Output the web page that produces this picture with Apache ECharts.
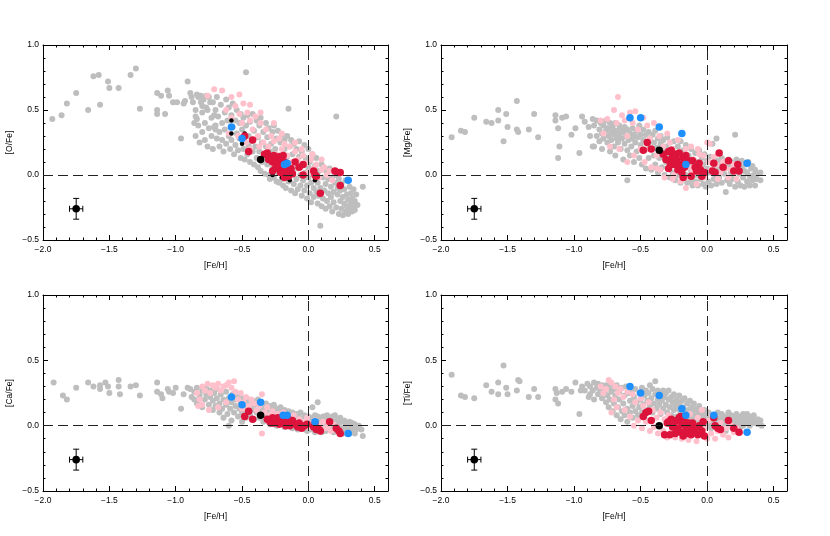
<!DOCTYPE html>
<html>
<head>
<meta charset="utf-8">
<script src="https://cdn.jsdelivr.net/npm/echarts@6/dist/echarts.min.js"></script>
<style>
  * { margin: 0; padding: 0; }
  body { background: #fff; }
  #chart { width: 830px; height: 536px; }
</style>
</head>
<body>
<div id="chart"></div>
<script>
// rows are [feh, value, value, ...] (several stars at the same [Fe/H])
const grayO = [
  [-1.93,0.43],[-1.86,0.46],[-1.82,0.55],[-1.75,0.63],[-1.66,0.50],[-1.62,0.76],[-1.58,0.77],[-1.57,0.54],
  [-1.51,0.72],[-1.50,0.67],[-1.43,0.67],[-1.34,0.77],[-1.30,0.82],[-1.27,0.51],[-1.14,0.63,0.50,0.47],
  [-1.11,0.61],[-1.08,0.47],[-1.06,0.65],[-1.05,0.61],[-1.02,0.56],[-0.99,0.56],[-0.96,0.28],[-0.94,0.55],
  [-0.93,0.57],[-0.91,0.72],[-0.89,0.63],[-0.88,0.60],[-0.87,0.56],[-0.86,0.40],[-0.84,0.43,0.62],[-0.85,0.50],
  [-0.81,0.61,0.56],[-0.80,0.53],[-0.77,0.61,0.52],[-0.74,0.56],[-0.71,0.46,0.37],[-0.70,0.35],
  [-0.85,0.45,0.30],[-0.83,0.60,0.38],[-0.82,0.25],[-0.80,0.48,0.33],[-0.79,0.58],[-0.78,0.40,0.27],
  [-0.76,0.50,0.22],[-0.75,0.60,0.36],[-0.73,0.44,0.30],[-0.72,0.56,0.20],[-0.70,0.50,0.38],[-0.69,0.28,0.60],
  [-0.68,0.45],[-0.67,0.33,0.22],[-0.66,0.54],[-0.65,0.40,0.27],[-0.64,0.18],[-0.63,0.48,0.35],[-0.62,0.58,0.24],
  [-0.61,0.42],[-0.60,0.30,0.52],[-0.59,0.20],[-0.58,0.46,0.27],[-0.57,0.37,0.55],[-0.56,0.16],[-0.55,0.42,0.23],
  [-0.54,0.50,0.32],[-0.53,0.19],[-0.52,0.40,0.28],[-0.51,0.47,0.13],[-0.50,0.35],[-0.49,0.20,0.44],
  [-0.48,0.26,0.12],[-0.47,0.79,0.38],[-0.46,0.16,0.46],[-0.45,0.30,0.22],[-0.44,0.10,0.41],[-0.43,0.26],
  [-0.42,0.18,0.47],[-0.41,0.34,0.08],[-0.40,0.22],[-0.39,0.42,0.13],[-0.38,0.29,0.06],[-0.37,0.38,0.18],
  [-0.36,0.44,0.03],[-0.35,0.25,0.10],[-0.34,0.33],[-0.33,0.15,0.01],[-0.32,0.40,0.22],[-0.31,0.08,0.29],
  [-0.30,0.36,0.00],[-0.29,0.18,-0.03],[-0.28,0.24,0.11],[-0.27,0.33,0.05],[-0.26,0.38,-0.02],[-0.25,0.20,0.08],
  [-0.24,0.28,-0.05],[-0.23,0.02,0.34],[-0.22,0.15,-0.06],[-0.21,0.25,0.05],[-0.20,0.31,-0.03],[-0.19,0.10,-0.08],
  [-0.18,0.20,0.27],[-0.17,0.00,-0.10],[-0.16,0.14,0.30],[-0.15,0.51,-0.05],[-0.14,0.22,0.06],[-0.13,-0.12,0.27],
  [-0.12,0.02,0.16],[-0.11,-0.07,0.24],[-0.10,0.10,-0.14],[-0.09,0.20,-0.03],[-0.08,0.05,-0.11],[-0.07,0.26,0.14],
  [-0.06,-0.08,0.00],[-0.05,0.18,-0.16],[-0.04,0.08,-0.04],[-0.03,0.23,-0.12],[-0.02,0.02,0.13],[-0.01,-0.08,-0.18],
  [0.00,0.06,0.20,-0.02],[0.01,-0.14,0.10],[0.02,-0.06,-0.21],[0.03,0.16,0.02],[0.04,-0.10,-0.17],[0.05,0.07,-0.02],
  [0.06,-0.13,0.13],[0.07,-0.22,-0.06],[0.08,0.03,-0.16],[0.09,-0.39,-0.10],[0.10,0.08,-0.24],[0.11,-0.02,-0.18],
  [0.12,0.04,-0.12],[0.13,-0.26,-0.07],[0.14,0.02,-0.20],[0.15,-0.14,-0.03],[0.16,-0.24,0.05],[0.17,-0.09,-0.17],
  [0.18,-0.28,-0.02],[0.19,-0.13,-0.21],[0.20,0.00,-0.06],[0.21,0.45,-0.25],[0.22,-0.15,-0.10],[0.23,-0.30,-0.03],
  [0.24,-0.20,-0.12],[0.25,-0.26,-0.07],[0.26,-0.17,-0.31],[0.27,-0.22,-0.11],[0.28,-0.28,-0.04],[0.29,-0.15,-0.24],
  [0.30,-0.19,-0.30],[0.31,-0.09,-0.26],[0.32,-0.22,-0.14],[0.33,-0.28,-0.18],[0.34,-0.24,-0.11],[0.35,-0.20,-0.27],
  [0.36,-0.15],[0.37,-0.23],[0.41,-0.09]
];
const pinkO = [
  [-0.76,0.61],[-0.71,0.66],[-0.65,0.65],[-0.62,0.50],[-0.58,0.44,0.60],[-0.55,0.53],[-0.52,0.47,0.62],[-0.50,0.40],
  [-0.49,0.55],[-0.46,0.48],[-0.44,0.42,0.54,0.20],[-0.42,0.35],[-0.40,0.45],[-0.38,0.30],[-0.36,0.40,0.48],
  [-0.34,0.25],[-0.32,0.35],[-0.30,0.22,0.14],[-0.28,0.30],[-0.26,0.26,0.40],[-0.24,0.16],[-0.22,0.28],
  [-0.20,0.20,0.32],[-0.18,0.24],[-0.16,0.15],[-0.14,0.22],[-0.12,0.10],[-0.10,0.18,0.25],[-0.08,0.12],
  [-0.06,0.06],[-0.05,0.20],[-0.04,0.15],[-0.02,0.09],[0.00,0.02],[0.02,0.12],[0.03,0.16],[0.04,0.05],[0.06,0.08],
  [0.08,-0.02],[0.10,0.04,0.12],[0.12,0.06],[0.14,0.00],[0.16,0.03],[0.18,-0.04],[0.20,0.02],
  [-0.60,0.32],[-0.53,0.30],[-0.47,0.25],[-0.37,0.22]
];
const redO = [
  [-0.48,0.30],[-0.42,0.27],[-0.45,0.18],[-0.33,0.16],[-0.31,0.17],[-0.30,0.12],[-0.29,0.14],[-0.27,0.10,0.03],
  [-0.26,0.15],[-0.25,0.05],[-0.24,0.12],[-0.23,0.08],[-0.22,0.14],[-0.21,0.11,0.02],[-0.20,0.06],[-0.19,0.15],
  [-0.18,0.10,-0.02],[-0.17,0.02],[-0.16,0.06],[-0.15,-0.01],[-0.14,0.04],[-0.13,0.05],[-0.12,0.01],[-0.10,0.10],
  [-0.07,0.06],[-0.04,0.08,0.00],[0.04,0.03],[0.05,0.00],[0.06,-0.01],[0.09,-0.14],[0.20,0.03],[0.22,0.02],
  [0.24,0.02,-0.08]
];
const blueO = [[-0.58,0.37],[-0.50,0.28],[-0.18,0.08],[-0.16,0.09],[0.30,-0.04]];
const blackSmallO = [
  [-0.58,0.42,0.32],[-0.48,0.32],[-0.50,0.24],[-0.27,0.03,0.00],[-0.20,-0.02],[-0.14,-0.04],[0.05,0.03,-0.04]
];
const blackBigO = [[-0.36,0.12]];

const grayMg = [
  [-1.92,0.29],[-1.85,0.34],[-1.82,0.33],[-1.75,0.44],[-1.66,0.41],[-1.62,0.40],[-1.57,0.50,0.42],[-1.53,0.26],
  [-1.51,0.47],[-1.50,0.37],[-1.43,0.57,0.35],[-1.42,0.33],[-1.34,0.35],[-1.30,0.47],[-1.27,0.29],
  [-1.14,0.46,0.42],[-1.12,0.36,0.13],[-1.11,0.22],[-1.09,0.44],[-1.06,0.45],[-1.02,0.31],[-0.99,0.36],
  [-0.96,0.17],[-0.94,0.45],[-0.92,0.41],[-0.89,0.37],[-0.88,0.30],[-0.86,0.43,0.22],
  [-0.85,0.38,0.22],[-0.83,0.42,0.30],[-0.81,0.35,0.26],[-0.80,0.40],[-0.79,0.32,0.20],[-0.78,0.38,0.28],
  [-0.76,0.42,0.34],[-0.75,0.25,0.36],[-0.74,0.30],[-0.73,0.40,0.18],[-0.72,0.33,0.27],[-0.71,0.37],
  [-0.70,0.22,0.31],[-0.69,0.40,0.15],[-0.68,0.34,0.28],[-0.67,0.25],[-0.66,0.38,0.31],[-0.65,0.20,0.35],
  [-0.64,0.28],[-0.63,0.33,0.12],[-0.62,0.37,0.24],[-0.61,0.30],[-0.60,-0.04,0.35,0.19],[-0.59,0.27],
  [-0.58,0.32,0.15],[-0.57,0.22],[-0.56,0.36,0.28],[-0.55,0.10,0.31],[-0.54,0.25],[-0.53,0.34,0.18],[-0.52,0.29],
  [-0.51,0.13,0.38],[-0.50,0.23,0.31],[-0.49,0.08],[-0.48,0.27,0.35],[-0.47,0.19],[-0.46,0.31,0.05],[-0.45,0.24],
  [-0.44,0.33,0.13],[-0.43,0.28],[-0.42,0.04,0.20],[-0.41,0.31],[-0.40,0.15,0.25],[-0.39,0.34,0.08],[-0.38,0.21],
  [-0.37,0.28,0.02],[-0.36,0.13],[-0.35,0.30,0.24],[-0.34,0.06],[-0.33,0.18,0.27],[-0.32,0.00],[-0.31,0.22,0.10],
  [-0.30,0.29],[-0.29,0.05,0.16],[-0.28,-0.02,0.25],[-0.27,0.12],[-0.26,0.20,0.02],[-0.25,0.26],[-0.24,0.08,-0.04],
  [-0.23,0.17],[-0.22,0.22,0.00],[-0.21,0.12],[-0.20,-0.06,0.26],[-0.19,0.06],[-0.18,0.19,-0.02],[-0.17,0.11],
  [-0.16,0.23,0.00],[-0.15,-0.06],[-0.14,0.15,0.08],[-0.13,-0.04],[-0.12,0.20,0.03],[-0.11,0.12,-0.08],[-0.10,0.06],
  [-0.09,0.17,-0.05],[-0.08,0.00],[-0.07,0.10,-0.08],[-0.06,0.19],[-0.05,0.04,-0.03],[-0.04,0.13],[-0.03,-0.07,0.08],
  [-0.02,0.16],[-0.01,0.01,-0.09],[0.00,0.11,0.05],[0.01,-0.05],[0.02,0.14,0.02],[0.03,-0.08],[0.04,0.09,0.24],
  [0.05,-0.03],[0.06,0.12,0.04],[0.07,0.28,-0.07],[0.08,0.07],[0.09,-0.02,0.11],[0.10,0.04],[0.11,-0.06,0.13],
  [0.12,0.08],[0.13,0.01],[0.14,-0.13,0.10],[0.15,-0.04],[0.16,0.06,0.12],[0.17,-0.07],[0.18,0.02,0.10],[0.19,-0.03],
  [0.20,0.07],[0.21,0.31,-0.09],[0.22,0.04,0.12],[0.23,-0.05],[0.24,0.09,0.01],[0.25,-0.08],[0.26,0.06,0.11],
  [0.27,-0.02],[0.28,0.03,-0.09],[0.29,0.08],[0.30,-0.05,0.02],[0.31,0.10],[0.32,-0.01,-0.08],[0.33,0.05],
  [0.34,-0.04,0.07],[0.35,0.00],[0.36,-0.08,0.04],[0.37,-0.03],[0.38,0.01],[0.40,-0.04,0.02]
];
const pinkMg = [
  [-0.80,0.42],[-0.78,0.32],[-0.75,0.43],[-0.73,0.22],[-0.70,0.50],[-0.68,0.40],[-0.67,0.60],[-0.66,0.20],
  [-0.64,0.46],[-0.62,0.42],[-0.60,0.30,0.10],[-0.58,0.48],[-0.56,0.40],[-0.55,0.15],[-0.54,0.49],[-0.52,0.35],
  [-0.50,0.20],[-0.48,0.44],[-0.47,0.10],[-0.45,0.38],[-0.44,0.20],[-0.43,0.28],[-0.42,0.06],[-0.40,0.40],
  [-0.38,0.15,0.05],[-0.36,0.30],[-0.35,0.04],[-0.33,0.22],[-0.32,-0.02],[-0.31,0.12],[-0.30,0.32],[-0.28,0.08,0.25],
  [-0.26,0.20,-0.03],[-0.25,0.00],[-0.24,0.17],[-0.23,0.14],[-0.22,0.27],[-0.20,-0.05,0.06],[-0.18,0.10],
  [-0.17,0.15],[-0.16,0.20,-0.10],[-0.15,-0.02],[-0.13,0.06],[-0.12,0.22],[-0.11,0.03],[-0.10,0.12],[-0.08,-0.07],
  [-0.07,0.20],[-0.06,0.16],[-0.05,0.08],[-0.03,0.15],[-0.02,-0.02],[0.00,0.25],[0.01,0.10],[0.02,0.24],[0.03,0.04],
  [0.05,0.14],[0.07,0.08],[0.08,-0.03],[0.10,0.02],[0.12,0.10],[0.14,0.05],[0.16,-0.02],[0.18,0.04],[0.20,0.08],
  [0.22,-0.03]
];
const redMg = [
  [-0.48,0.19],[-0.45,0.25],[-0.42,0.20],[-0.33,0.16],[-0.31,0.12],[-0.29,0.18,0.05],[-0.28,0.10],[-0.27,0.19],
  [-0.26,0.14],[-0.25,0.08],[-0.24,0.16],[-0.23,0.12],[-0.22,0.04],[-0.21,0.17],[-0.20,0.08],[-0.19,0.02],
  [-0.18,0.13,-0.02],[-0.17,0.06],[-0.16,0.15],[-0.14,0.11],[-0.12,-0.01],[-0.11,0.11],[-0.09,0.06],[-0.08,0.03],
  [-0.06,0.09],[-0.05,0.04],[-0.04,-0.01],[-0.02,0.02],[0.04,0.03],[0.05,0.09],[0.06,0.02],[0.09,0.17],[0.12,0.06],
  [0.16,0.11],[0.20,0.03],[0.23,0.08],[0.24,0.03]
];
const blueMg = [[-0.58,0.44],[-0.50,0.44],[-0.36,0.37],[-0.19,0.32],[-0.16,0.08],[0.30,0.09]];
const blackBigMg = [[-0.36,0.19]];

const grayCa = [
  [-1.92,0.33],[-1.85,0.23],[-1.82,0.20],[-1.75,0.29],[-1.66,0.33],[-1.62,0.30],[-1.57,0.31,0.28],[-1.53,0.33],
  [-1.51,0.30],[-1.50,0.25],[-1.43,0.35,0.30],[-1.42,0.24],[-1.34,0.30],[-1.30,0.31],[-1.27,0.23],
  [-1.14,0.33,0.26],[-1.11,0.24],[-1.10,0.21],[-1.06,0.28],[-1.05,0.26],[-1.02,0.25],[-1.00,0.29],[-0.96,0.13],
  [-0.94,0.24],[-0.91,0.29],[-0.89,0.28],[-0.88,0.22],
  [-0.86,0.26,0.20],[-0.84,0.29,0.17],[-0.82,0.23],[-0.80,0.27,0.14],[-0.78,0.20],[-0.77,0.29,0.24],[-0.75,0.16],
  [-0.74,0.22,0.27],[-0.72,0.12,0.19],[-0.71,0.25],[-0.70,0.15],[-0.69,0.21,0.28],[-0.67,0.10,0.17],[-0.66,0.24],
  [-0.65,0.13],[-0.64,0.20,0.06],[-0.62,0.16,0.26],[-0.61,0.09],[-0.60,0.00,0.21],[-0.59,0.13],[-0.58,0.18,0.04],
  [-0.57,0.24],[-0.56,0.10],[-0.55,0.15,0.20],[-0.53,0.07,0.22],[-0.52,0.13],[-0.51,0.18],[-0.50,0.10,0.03],
  [-0.49,0.21],[-0.48,0.14],[-0.47,0.18,0.06],[-0.46,0.11],[-0.45,0.20],[-0.44,0.08,0.15],[-0.42,0.12,0.19],
  [-0.41,0.05],[-0.40,0.16],[-0.39,0.10],[-0.38,0.14,0.20],[-0.37,0.06],[-0.35,0.12,0.16],[-0.34,0.03],[-0.33,0.09],
  [-0.32,0.17,0.13],[-0.31,0.05],[-0.30,0.10],[-0.29,0.15,0.01],[-0.28,0.07],[-0.27,0.12],[-0.26,0.03,0.16],
  [-0.25,0.09],[-0.24,0.13,0.00],[-0.23,0.06],[-0.22,0.11],[-0.21,0.02,0.14],[-0.20,0.08],[-0.19,0.04],
  [-0.18,0.12,-0.01],[-0.17,0.09],[-0.16,0.05],[-0.15,0.11,0.01],[-0.14,0.07],[-0.13,0.03],[-0.12,0.10,-0.02],
  [-0.11,0.06],[-0.10,0.02],[-0.09,0.09,0.04],[-0.08,-0.03],[-0.07,0.06],[-0.06,0.10,0.01],[-0.05,0.04],
  [-0.04,-0.02],[-0.03,0.08,0.03],[-0.02,0.05],[-0.01,-0.04],[0.00,0.07,0.02],[0.01,0.04],[0.02,-0.03],
  [0.03,0.14,0.06],[0.04,0.01],[0.05,0.08,-0.05],[0.06,0.03],[0.07,0.18,0.07],[0.08,-0.01],[0.09,0.05],
  [0.10,0.02,-0.05],[0.11,0.07],[0.12,0.00],[0.13,0.04,-0.04],[0.14,0.08],[0.15,0.02],[0.16,-0.03,0.05],[0.17,0.00],
  [0.18,0.07],[0.19,-0.05,0.03],[0.20,0.08],[0.21,0.01],[0.22,-0.03,0.05],[0.23,0.02],[0.24,0.06],[0.25,-0.02,0.03],
  [0.26,-0.06],[0.27,0.04],[0.28,0.00,-0.04],[0.29,0.02],[0.30,-0.03],[0.31,0.03,-0.06],[0.32,0.00],[0.33,-0.04,0.02],
  [0.34,-0.01],[0.35,-0.06,0.01],[0.36,-0.03],[0.38,0.00],[0.40,-0.03],[0.41,-0.08]
];
const pinkCa = [
  [-0.84,0.25],[-0.83,0.15],[-0.82,0.20],[-0.80,0.30,0.16],[-0.78,0.27],[-0.76,0.32],[-0.75,0.12],[-0.74,0.25],
  [-0.72,0.31],[-0.70,0.29],[-0.68,0.32,0.14],[-0.66,0.27],[-0.64,0.30],[-0.62,0.31,0.18],[-0.60,0.33],[-0.58,0.29],
  [-0.56,0.34],[-0.55,0.26],[-0.53,0.20],[-0.51,0.25],[-0.50,0.13],[-0.49,0.18],[-0.47,0.22],[-0.45,0.15],
  [-0.43,0.20],[-0.41,0.17],[-0.39,0.12],[-0.37,0.15],[-0.35,0.24,-0.06],[-0.33,0.10],[-0.31,0.14],[-0.29,0.08],
  [-0.27,0.11],[-0.25,0.06],[-0.23,0.09],[-0.21,0.05],[-0.19,0.10],[-0.17,0.04],[-0.15,0.07],[-0.13,0.05],
  [-0.11,0.08],[-0.09,0.02],[-0.07,0.05],[-0.05,0.00],[-0.03,0.03],[-0.01,0.06],[0.01,-0.01],[0.03,0.02],[0.05,0.04],
  [0.07,-0.02],[0.09,0.01],[0.11,0.03],[0.13,-0.02],[0.15,0.00],[0.17,-0.04],[0.19,0.01],[0.21,-0.02]
];
const redCa = [
  [-0.48,0.07],[-0.45,0.11],[-0.42,0.05],[-0.31,0.05],[-0.29,0.03],[-0.28,0.02],[-0.27,0.06],[-0.26,0.02],
  [-0.24,0.04],[-0.23,0.06],[-0.22,0.01],[-0.21,0.04],[-0.20,0.06],[-0.19,0.02],[-0.18,0.04],[-0.17,0.00],
  [-0.16,0.03],[-0.15,0.05],[-0.14,0.00],[-0.13,0.03],[-0.12,0.04],[-0.10,0.01],[-0.08,-0.01],[-0.07,0.02],
  [-0.05,-0.02],[-0.03,0.00],[-0.01,0.01],[0.04,-0.01],[0.05,0.02],[0.06,-0.03],[0.08,-0.03],[0.09,-0.04],
  [0.16,0.03],[0.21,-0.02],[0.23,-0.04],[0.24,-0.06]
];
const blueCa = [[-0.58,0.22],[-0.50,0.16],[-0.36,0.18],[-0.19,0.08],[-0.16,0.08],[0.05,0.03],[0.30,-0.06]];
const blackBigCa = [[-0.36,0.08]];

const grayTi = [
  [-1.92,0.39],[-1.85,0.23],[-1.82,0.22],[-1.75,0.21],[-1.66,0.31],[-1.62,0.26],[-1.57,0.33,0.24],[-1.53,0.46],
  [-1.51,0.29],[-1.50,0.24],[-1.43,0.27],[-1.42,0.35],[-1.41,0.34],[-1.34,0.22],[-1.30,0.28],[-1.27,0.22],
  [-1.14,0.28,0.20],[-1.13,0.25],[-1.12,0.17],[-1.09,0.26],[-1.06,0.28],[-1.02,0.26],[-0.99,0.33],[-0.96,0.09],
  [-0.95,0.27],[-0.94,0.30],[-0.92,0.27],[-0.90,0.32],[-0.89,0.22],
  [-0.88,0.30,0.24],[-0.86,0.27],[-0.85,0.33,0.20],[-0.83,0.29],[-0.82,0.24,0.32],[-0.80,0.27],[-0.79,0.21,0.31],
  [-0.77,0.26],[-0.76,0.31,0.18],[-0.75,0.23],[-0.74,0.29,0.14],[-0.73,0.20],[-0.72,0.26,0.32],[-0.71,0.11],
  [-0.70,0.17,0.28],[-0.69,0.23],[-0.68,0.08,0.31],[-0.67,0.14],[-0.66,0.26,0.20],[-0.65,0.05],[-0.64,0.11,0.29],
  [-0.63,0.17],[-0.62,0.23,0.08],[-0.61,0.30],[-0.60,0.13,0.03],[-0.59,0.25],[-0.58,0.19,0.10],[-0.57,0.27],
  [-0.56,0.15,0.06],[-0.55,0.22],[-0.54,0.28,0.11],[-0.53,0.18],[-0.52,0.08],[-0.51,0.25,0.14],[-0.50,0.20],
  [-0.49,0.29,0.10],[-0.48,0.16],[-0.47,0.23,0.06],[-0.46,0.27],[-0.45,0.19,0.12],[-0.44,0.25],[-0.43,0.15,0.31],
  [-0.42,0.21],[-0.41,0.28,0.10],[-0.40,0.17],[-0.39,0.24,0.34],[-0.38,0.13],[-0.37,0.20,0.27],[-0.36,0.16],
  [-0.35,0.24,0.09],[-0.34,0.19],[-0.33,0.27,0.13],[-0.32,0.22],[-0.31,0.16,0.25],[-0.30,0.10],[-0.29,0.20,0.27],
  [-0.28,0.14],[-0.27,0.22,0.08],[-0.26,0.18],[-0.25,0.24,0.12],[-0.24,0.16],[-0.23,0.20,0.07],[-0.22,0.13],
  [-0.21,0.23,0.17],[-0.20,0.10],[-0.19,0.19],[-0.18,0.14,0.05],[-0.17,0.21],[-0.16,0.11],[-0.15,0.17,0.06],
  [-0.14,0.12],[-0.13,0.19,0.08],[-0.12,0.14],[-0.11,0.05],[-0.10,0.12,0.17],[-0.09,0.08],[-0.08,0.13],
  [-0.07,0.04,0.10],[-0.06,0.15],[-0.05,0.07],[-0.04,0.11,0.02],[-0.03,0.08],[-0.02,0.12],[-0.01,0.04,0.09],
  [0.00,0.06],[0.01,0.10,0.01],[0.02,0.05],[0.03,0.08,-0.02],[0.04,0.03],[0.06,0.07,0.00],[0.07,0.04],
  [0.08,0.10,-0.03],[0.09,0.02],[0.10,0.06],[0.11,-0.01,0.09],[0.12,0.04],[0.13,0.01],[0.14,0.07,-0.04],[0.15,0.03],
  [0.16,0.10],[0.17,0.00,0.05],[0.18,0.08],[0.19,-0.02],[0.20,0.04,0.07],[0.21,0.01],[0.22,0.09,-0.03],[0.23,0.05],
  [0.24,0.02],[0.25,0.07,-0.01],[0.26,0.04],[0.27,0.09,0.00],[0.28,0.05],[0.29,0.02],[0.30,0.06,0.09],[0.31,0.03],
  [0.32,0.00,0.07],[0.33,0.04],[0.34,0.06],[0.35,0.02,0.08],[0.36,0.04],[0.38,0.05,0.01],[0.40,0.04],[0.41,0.00]
];
const pinkTi = [
  [-0.80,0.30],[-0.78,0.25],[-0.76,0.28],[-0.74,0.35],[-0.72,0.33,0.10],[-0.70,0.20],[-0.69,0.30],[-0.68,0.14],
  [-0.67,0.25],[-0.65,0.28],[-0.63,0.22],[-0.62,0.12],[-0.60,0.26],[-0.58,0.07],[-0.56,0.24],[-0.55,0.00],
  [-0.54,0.18],[-0.52,0.04],[-0.50,0.21],[-0.49,-0.02],[-0.48,0.15],[-0.46,0.03],[-0.44,0.18],[-0.43,-0.04],
  [-0.41,0.12],[-0.40,-0.01],[-0.38,0.06],[-0.37,-0.06],[-0.35,0.10],[-0.33,-0.04],[-0.32,0.05],[-0.30,-0.09],
  [-0.29,0.08],[-0.27,-0.05],[-0.25,0.02],[-0.24,-0.09],[-0.22,0.06],[-0.21,-0.03],[-0.19,-0.10],[-0.17,0.03],
  [-0.16,-0.06],[-0.14,-0.11],[-0.13,0.09],[-0.11,-0.04],[-0.10,0.01],[-0.08,-0.12],[-0.07,0.06],[-0.05,-0.07],
  [-0.04,0.12],[-0.02,-0.02],[0.00,-0.10],[0.01,0.04],[0.03,-0.06],[0.04,0.08],[0.06,-0.10],[0.08,-0.04],
  [0.10,0.02],[0.12,-0.07],[0.14,-0.02],[0.16,-0.09],[0.18,0.00],[0.20,-0.05],[0.22,-0.02]
];
const redTi = [
  [-0.48,0.07],[-0.46,0.10],[-0.44,0.11],[-0.42,0.04],[-0.32,-0.07],[-0.30,0.02],[-0.29,0.03],[-0.28,-0.07],
  [-0.27,0.05],[-0.26,-0.01],[-0.25,0.02],[-0.24,-0.06],[-0.23,0.04],[-0.22,-0.02],[-0.21,0.06],[-0.20,0.07,-0.05],
  [-0.19,0.01],[-0.18,-0.08],[-0.17,0.03],[-0.16,-0.03],[-0.15,-0.06],[-0.14,0.02],[-0.13,-0.02],[-0.12,-0.07],
  [-0.11,0.02],[-0.10,-0.05],[-0.09,-0.02],[-0.07,-0.07],[-0.06,0.00],[-0.04,-0.04],[-0.03,0.03],[-0.02,-0.08],
  [0.05,0.06],[0.06,0.00],[0.08,-0.02],[0.10,-0.03],[0.16,0.04],[0.20,-0.02],[0.24,-0.05]
];
const blueTi = [[-0.58,0.30],[-0.50,0.25],[-0.36,0.23],[-0.19,0.13],[-0.16,0.08],[0.05,0.08],[0.30,-0.05]];
const blackBigTi = [[-0.36,0.00]];

// typical error bar: [Fe/H], [X/Fe], error in [Fe/H], error in [X/Fe]
const errBar = [-1.75, -0.26, 0.05, 0.08];

const expand = rows => rows.flatMap(r => r.slice(1).map(v => [r[0], v]));

const panels = [
  { label: '[O/Fe]',  gray: grayO,  pink: pinkO,  red: redO,  blue: blueO,  blackS: blackSmallO, blackB: blackBigO },
  { label: '[Mg/Fe]', gray: grayMg, pink: pinkMg, red: redMg, blue: blueMg, blackS: [], blackB: blackBigMg },
  { label: '[Ca/Fe]', gray: grayCa, pink: pinkCa, red: redCa, blue: blueCa, blackS: [], blackB: blackBigCa },
  { label: '[Ti/Fe]', gray: grayTi, pink: pinkTi, red: redTi, blue: blueTi, blackS: [], blackB: blackBigTi }
];
const boxes = [
  { left: 43,  top: 45,  width: 345, height: 195 },
  { left: 441, top: 45,  width: 346, height: 195 },
  { left: 43,  top: 295, width: 345, height: 196 },
  { left: 441, top: 295, width: 346, height: 196 }
];

const FONT = 'Liberation Sans';
const fmt = v => Math.abs(v * 2 - Math.round(v * 2)) > 1e-6 ? '' : v.toFixed(1).replace('-', '\u2212');
const line = { show: true, onZero: false, lineStyle: { color: '#000', width: 1 } };

const grid = [], xAxis = [], yAxis = [], series = [];
panels.forEach((p, i) => {
  grid.push(boxes[i]);
  ['bottom', 'top'].forEach(pos => {
    xAxis.push({
      type: 'value', gridIndex: i, position: pos, min: -2, max: 0.6, interval: 0.5,
      axisLine: line, axisTick: { inside: true, length: 5, lineStyle: { color: '#000' } },
      splitLine: { show: false },
      axisLabel: { show: pos === 'bottom', fontSize: 8.5, color: '#000', fontFamily: FONT, margin: 5, formatter: fmt },
      name: pos === 'bottom' ? '[Fe/H]' : '', nameLocation: 'middle', nameGap: 21,
      nameTextStyle: { fontSize: 8.5, color: '#000', fontFamily: FONT }
    });
    // minor ticks every 0.1
    xAxis.push({
      type: 'value', gridIndex: i, position: pos, min: -2, max: 0.6, interval: 0.1,
      axisLine: { show: false, onZero: false }, axisTick: { inside: true, length: 2.5, lineStyle: { color: '#000' } },
      splitLine: { show: false }, axisLabel: { show: false }
    });
  });
  ['left', 'right'].forEach(pos => {
    yAxis.push({
      type: 'value', gridIndex: i, position: pos, min: -0.5, max: 1.0, interval: 0.5,
      axisLine: line, axisTick: { inside: true, length: 5, lineStyle: { color: '#000' } },
      minorTick: { show: true, splitNumber: 5, length: 2.5, lineStyle: { color: '#000' } },
      splitLine: { show: false },
      axisLabel: { show: pos === 'left', fontSize: 8.5, color: '#000', fontFamily: FONT, margin: 4, formatter: fmt },
      name: pos === 'left' ? p.label : '', nameLocation: 'middle', nameGap: 29,
      nameTextStyle: { fontSize: 8.5, color: '#000', fontFamily: FONT }
    });
  });

  const ax = { xAxisIndex: 4 * i, yAxisIndex: 2 * i };
  const dots = (data, color, size) => Object.assign({
    type: 'scatter', data: expand(data), symbolSize: size, silent: true,
    itemStyle: { color: color, opacity: 1 }
  }, ax);

  const g = dots(p.gray, '#bebebe', 6);
  g.markLine = {
    silent: true, symbol: 'none', label: { show: false },
    lineStyle: { color: '#222', width: 1, type: [10, 5] },
    data: [{ yAxis: 0 }, { xAxis: 0 }]
  };
  series.push(g);
  series.push(dots(p.pink, '#ffc0cb', 6));
  series.push(dots(p.blackS, '#000', 4.5));
  series.push(dots(p.red, '#dc143c', 7.5));
  series.push(dots(p.blue, '#1e90ff', 7.5));
  series.push(dots(p.blackB, '#000', 7.5));
  series.push(Object.assign({
    type: 'custom', silent: true, data: [errBar],
    renderItem: (params, api) => {
      const x = api.value(0), y = api.value(1), ex = api.value(2), ey = api.value(3);
      const c = api.coord([x, y]);
      const l = api.coord([x - ex, y]), r = api.coord([x + ex, y]);
      const t = api.coord([x, y + ey]), b = api.coord([x, y - ey]);
      const st = { stroke: '#000', lineWidth: 1 };
      const seg = (x1, y1, x2, y2) => ({ type: 'line', shape: { x1, y1, x2, y2 }, style: st });
      return {
        type: 'group', children: [
          seg(c[0], t[1], c[0], b[1]),
          seg(c[0] - 3, t[1], c[0] + 3, t[1]),
          seg(c[0] - 3, b[1], c[0] + 3, b[1]),
          seg(l[0], c[1], r[0], c[1]),
          seg(l[0], c[1] - 3, l[0], c[1] + 3),
          seg(r[0], c[1] - 3, r[0], c[1] + 3),
          { type: 'circle', shape: { cx: c[0], cy: c[1], r: 3.8 }, style: { fill: '#000' } }
        ]
      };
    }
  }, ax));
});

const chart = echarts.init(document.getElementById('chart'), null, { renderer: 'canvas' });
chart.setOption({
  backgroundColor: '#fff',
  animation: false,
  grid: grid, xAxis: xAxis, yAxis: yAxis, series: series
});
</script>
</body>
</html>
